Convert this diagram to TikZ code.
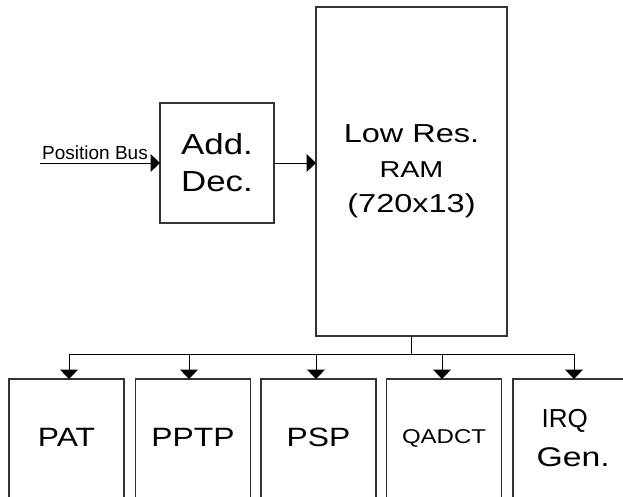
\documentclass[tikz,border=0pt]{standalone}
\usepackage{fontspec}
\setmainfont{Liberation Sans}
\newfontfamily\widefont[FakeStretch=1.2]{Liberation Sans}
\newfontfamily\widerfont[FakeStretch=1.25]{Liberation Sans}
\usetikzlibrary{arrows.meta}

\begin{document}
\begin{tikzpicture}[x=1pt,y=-1pt,
  block/.style={draw=black!80, line width=1.2pt, rectangle, inner sep=0pt, outer sep=0pt},
  unitbox/.style={block, anchor=north, minimum width=115pt, minimum height=140pt},
  wire/.style={line width=1pt, black},
  arr/.style={wire, -{Triangle[length=9.5pt,width=18pt]}},
  unitlabel/.style={inner sep=0pt, font=\widefont\fontsize{26.5}{30}\selectfont}
]
\useasboundingbox (0,0) rectangle (623,496);
\clip (0,0) rectangle (623,496);

% address decoder and RAM
\node[block, minimum width=114pt, minimum height=120pt, align=center,
      font=\widefont\fontsize{29}{37}\selectfont] (add) at (217,163) {Add.\\Dec.};
\node[block, minimum width=191pt, minimum height=329pt, align=center,
      font=\widerfont\fontsize{26}{35}\selectfont] (ram) at (411.5,171.5)
      {Low Res.\\{\fontsize{23}{35}\selectfont RAM}\\(720x13)};

% position bus input
\coordinate (busin) at (40,163);
\node[anchor=base west, inner sep=0pt, font=\fontsize{19}{22}\selectfont] (buslbl) at (42,159) {Position Bus};
\draw[arr] (busin) -- (add.west);
\draw[arr] (add.east) -- (add.east -| ram.west);

% output units (they run past the lower edge)
\node[unitbox] (pat)   at (66.5,379) {};
\node[unitbox] (pptp)  at (193,379)  {};
\node[unitbox] (psp)   at (318.5,379) {};
\node[unitbox] (qadct) at (444,379)  {};
\node[unitbox] (irq)   at (570.5,379) {};

\node[unitlabel] (patT)   at ([yshift=-58pt]pat.north)   {PAT};
\node[unitlabel] (pptpT)  at ([yshift=-58pt]pptp.north)  {PPTP};
\node[unitlabel] (pspT)   at ([yshift=-58pt]psp.north)   {PSP};
\node[unitlabel, font=\widefont\fontsize{20}{24}\selectfont] (qadctT) at ([yshift=-59pt]qadct.north) {QADCT};
\node[inner sep=0pt, align=left, font=\fontsize{26}{39}\selectfont, anchor=west] (irqT) at ([xshift=-34pt,yshift=-59pt]irq.north)
      {\hspace{5pt}IRQ\\{\widerfont\fontsize{27}{39}\selectfont Gen.}};

% distribution bus from the RAM
\coordinate (bus) at ([yshift=-18pt]ram.south);
\coordinate (a1) at ([xshift=2.5pt]pat.north);
\coordinate (a2) at ([xshift=-4pt]pptp.north);
\coordinate (a3) at ([xshift=-2.5pt]psp.north);
\coordinate (a4) at ([xshift=-2pt]qadct.north);
\coordinate (a5) at ([xshift=3.5pt]irq.north);
\draw[wire] (ram.south) -- (bus);
\draw[wire] (bus -| a1) -- (bus -| a5);
\foreach \t in {a1,a2,a3,a4,a5}
  \draw[arr] (bus -| \t) -- (\t);
\end{tikzpicture}
\end{document}
